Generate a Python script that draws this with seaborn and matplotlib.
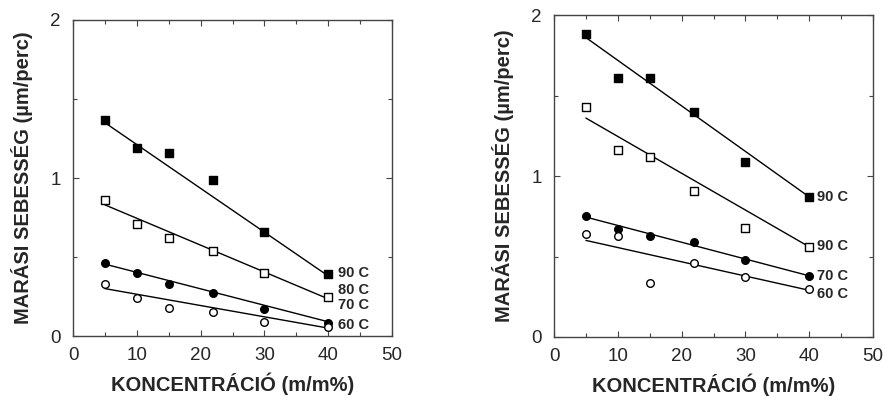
import numpy as np
import pandas as pd
import matplotlib
matplotlib.use("Agg")
import matplotlib.pyplot as plt
import seaborn as sns
from matplotlib.ticker import MultipleLocator

# ---- data ----
conc = [5, 10, 15, 22, 30, 40]

left_90 = [1.37, 1.19, 1.16, 0.99, 0.66, 0.39]
left_80 = [0.86, 0.71, 0.62, 0.54, 0.40, 0.25]
left_70 = [0.46, 0.40, 0.33, 0.27, 0.17, 0.08]
left_60 = [0.33, 0.24, 0.18, 0.15, 0.09, 0.06]

right_90 = [1.88, 1.61, 1.61, 1.40, 1.09, 0.87]
right_80 = [1.43, 1.16, 1.12, 0.91, 0.68, 0.56]
right_70 = [0.75, 0.67, 0.63, 0.59, 0.48, 0.38]
right_60 = [0.64, 0.63, 0.335, 0.46, 0.37, 0.30]

# fitted line end values at x = 5 and x = 40
fit_x = [5, 40]
left_fit_90 = [1.35, 0.38]
left_fit_80 = [0.83, 0.235]
left_fit_70 = [0.455, 0.09]
left_fit_60 = [0.30, 0.05]
right_fit_90 = [1.86, 0.87]
right_fit_80 = [1.36, 0.56]
right_fit_70 = [0.745, 0.38]
right_fit_60 = [0.60, 0.29]

left_labels = ["90 C", "80 C", "70 C", "60 C"]
right_labels = ["90 C", "90 C", "70 C", "60 C"]
left_label_y = [0.40, 0.29, 0.196, 0.07]
right_label_y = [0.87, 0.565, 0.38, 0.27]

xticks = [0, 10, 20, 30, 40, 50]
yticks = [0, 1, 2]
xlabel = "KONCENTRÁCIÓ (m/m%)"
ylabel = "MARÁSI SEBESSÉG (µm/perc)"

styles = [("s", "black"), ("s", "white"), ("o", "black"), ("o", "white")]

sns.set_style("ticks")
plt.rcParams["font.family"] = ["Liberation Sans", "DejaVu Sans"]

fig = plt.figure(figsize=(8.85, 3.96), dpi=100)
ax1 = fig.add_axes([0.0825, 0.1515, 0.3605, 0.798])
ax2 = fig.add_axes([0.626, 0.149, 0.3605, 0.813])

panels = [
    (ax1, [left_90, left_80, left_70, left_60],
     [left_fit_90, left_fit_80, left_fit_70, left_fit_60], left_labels, left_label_y, 41.6),
    (ax2, [right_90, right_80, right_70, right_60],
     [right_fit_90, right_fit_80, right_fit_70, right_fit_60], right_labels, right_label_y, 41.2),
]

for ax, series, fits, labels, label_y, lx in panels:
    for vals, fit, (mk, fc) in zip(series, fits, styles):
        sns.lineplot(x=fit_x, y=fit, ax=ax, color="black", linewidth=1.0)
        sns.scatterplot(x=conc, y=vals, ax=ax, marker=mk, s=34 if mk == "s" else 30,
                        facecolor=fc, edgecolor="black", linewidth=1.0, zorder=3)
    for lab, yy in zip(labels, label_y):
        ax.text(lx, yy, lab, fontsize=10.5, fontweight="bold", va="center", ha="left")
    ax.set_xlim(0, 50)
    ax.set_ylim(0, 2)
    ax.set_xticks(xticks)
    ax.set_xticklabels([str(t) for t in xticks])
    ax.set_yticks(yticks)
    ax.set_yticklabels([str(t) for t in yticks])
    ax.xaxis.set_minor_locator(MultipleLocator(5))
    ax.yaxis.set_minor_locator(MultipleLocator(0.5))
    ax.tick_params(which="both", direction="in", top=True, right=True,
                   labelsize=13.5, length=4, width=0.8, color="#444444")
    ax.tick_params(axis="x", which="major", pad=8)
    ax.tick_params(axis="y", which="major", pad=9)
    ax.tick_params(which="minor", length=3)
    for sp in ax.spines.values():
        sp.set_visible(True)
        sp.set_color("#444444")
        sp.set_linewidth(1.0)
    ax.set_xlabel(xlabel, fontsize=14.5, fontweight="bold", labelpad=6)
    ax.set_ylabel(ylabel, fontsize=14.5, fontweight="bold", labelpad=12)

fig.savefig("out.png", dpi=100)
